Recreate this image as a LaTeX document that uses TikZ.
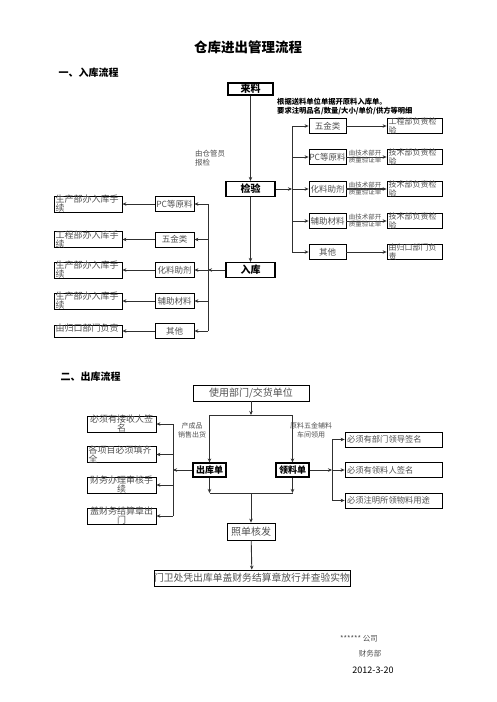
\documentclass[tikz,border=0pt]{standalone}
\usepackage{fontspec}
\setmainfont{Noto Sans CJK SC}
\usetikzlibrary{arrows.meta, positioning}
\definecolor{txtgray}{HTML}{505050}
\definecolor{linegray}{HTML}{303030}

\begin{document}
\begin{tikzpicture}[
    x=1pt, y=-1pt, >={Stealth[length=4pt,width=3.5pt]},
    arr/.style={->, draw=linegray, line width=0.9pt},
    wire/.style={draw=linegray, line width=0.9pt},
    hdr/.style={draw, line width=1.2pt, font=\bfseries\fontsize{10}{10}\selectfont,
                inner sep=0pt, minimum height=15pt, minimum width=49pt},
    cell/.style={draw, line width=0.8pt, font=\fontsize{8.5}{8.5}\selectfont,
                 text=txtgray, inner sep=0pt, minimum height=15pt},
    memo/.style={draw, line width=0.8pt, font=\fontsize{8}{8.5}\selectfont,
                 text=txtgray, align=left, text width=#1, inner xsep=1.5pt,
                 inner ysep=0pt, text height=6pt, text depth=8.5pt},
    bigmemo/.style={memo=#1, font=\fontsize{9}{9}\selectfont,
                    text height=6.5pt, text depth=9.5pt},
    tag/.style={font=\fontsize{6.5}{7}\selectfont, text=txtgray,
                align=center, inner sep=0pt}
  ]
  \useasboundingbox (0,0) rectangle (496,702);

  \node[font=\bfseries\fontsize{13.5}{14}\selectfont] (title) at (248,47) {仓库进出管理流程};

  % 入库流程
  \node[anchor=west, font=\bfseries\fontsize{10}{10}\selectfont] (secIn) at (55,73) {一、入库流程};
  \node[hdr, minimum width=45pt, minimum height=12pt] (laiLiao) at (250.5,89) {来料};
  \node[anchor=north west, align=left, inner sep=0pt,
        font=\bfseries\fontsize{7.3}{9}\selectfont] (inNote) at (277,98)
    {根据送料单位单据开原料入库单。\\要求注明品名/数量/大小/单价/供方等明细};
  \node[anchor=west, align=left, inner sep=0pt, text=txtgray,
        font=\fontsize{7.5}{9.5}\selectfont] (baoJian) at (195,158) {由仓管员\\报检};
  \node[hdr] (jianYan) at (250.5,189) {检验};
  \node[hdr] (ruKu) at (250.5,270) {入库};

  \draw[arr] (laiLiao) -- (jianYan);
  \draw[arr] (jianYan) -- (ruKu);

  % right branch
  \node[cell, minimum width=37pt] (rWujin) at (327.5,126) {五金类};
  \node[cell, minimum width=37pt] (rPc) at (327.5,157) {PC等原料};
  \node[cell, minimum width=37pt] (rHualiao) at (327.5,189) {化料助剂};
  \node[cell, minimum width=37pt] (rFuzhu) at (327.5,221) {辅助材料};
  \node[cell, minimum width=37pt] (rQita) at (327.5,252) {其他};

  \node[memo=52pt] (rWujinChk) at (414.5,126) {工程部负责检\\验};
  \node[memo=52pt] (rPcChk) at (414.5,157) {技术部负责检\\验};
  \node[memo=52pt] (rHualiaoChk) at (414.5,189) {技术部负责检\\验};
  \node[memo=52pt] (rFuzhuChk) at (414.5,221) {技术部负责检\\验};
  \node[memo=52pt] (rQitaChk) at (414.5,252) {由归口部门负\\责};

  \coordinate (rBus) at (292,189);
  \draw[arr] (jianYan) -- (rBus);
  \draw[wire] (rBus |- rWujin.west) -- (rBus |- rQita.west);
  \draw[arr] (rBus |- rWujin.west) -- (rWujin);
  \draw[arr] (rBus |- rPc.west) -- (rPc);
  \draw[arr] (rBus) -- (rHualiao);
  \draw[arr] (rBus |- rFuzhu.west) -- (rFuzhu);
  \draw[arr] (rBus |- rQita.west) -- (rQita);

  \draw[arr] (rWujin) -- (rWujinChk);
  \draw[arr] (rPc) -- (rPcChk);
  \draw[arr, line width=1.6pt] (rHualiao) -- (rHualiaoChk);
  \draw[arr] (rFuzhu) -- (rFuzhuChk);
  \draw[arr] (rQita) -- (rQitaChk);

  \node[tag] (tagPc) at (365,157) {由技术部开\\质量验证单};
  \node[tag] (tagHualiao) at (365,189) {由技术部开\\质量验证单};
  \node[tag] (tagFuzhu) at (365,221) {由技术部开\\质量验证单};

  % left branch
  \node[cell, minimum width=39pt] (lPc) at (174.5,204) {PC等原料};
  \node[cell, minimum width=39pt] (lWujin) at (174.5,239.5) {五金类};
  \node[cell, minimum width=39pt] (lHualiao) at (174.5,270) {化料助剂};
  \node[cell, minimum width=39pt] (lFuzhu) at (174.5,301) {辅助材料};
  \node[cell, minimum width=39pt] (lQita) at (174.5,331) {其他};

  \node[bigmemo=65pt] (lPcIn) at (88,204) {生产部办入库手\\续};
  \node[bigmemo=65pt] (lWujinIn) at (88,239.5) {工程部办入库手\\续};
  \node[bigmemo=65pt] (lHualiaoIn) at (88,270) {生产部办入库手\\续};
  \node[bigmemo=65pt] (lFuzhuIn) at (88,301) {生产部办入库手\\续};
  \node[bigmemo=65pt, text height=6pt, text depth=6pt] (lQitaIn) at (88,331) {由归口部门负责};

  \coordinate (lBus) at (208,270);
  \draw[arr] (ruKu) -- (lBus);
  \draw[wire] (lBus |- lPc.east) -- (lBus |- lQita.east);
  \draw[arr] (lBus |- lPc.east) -- (lPc);
  \draw[arr] (lBus |- lWujin.east) -- (lWujin);
  \draw[arr] (lBus) -- (lHualiao);
  \draw[arr] (lBus |- lFuzhu.east) -- (lFuzhu);
  \draw[arr] (lBus |- lQita.east) -- (lQita);

  \draw[arr] (lPc) -- (lPcIn);
  \draw[arr] (lWujin) -- (lWujinIn);
  \draw[arr] (lHualiao) -- (lHualiaoIn);
  \draw[arr] (lFuzhu) -- (lFuzhuIn);
  \draw[arr] (lQita) -- (lQitaIn);

  % 出库流程
  \node[anchor=west, font=\bfseries\fontsize{10}{10}\selectfont] (secOut) at (57,377) {二、出库流程};
  \node[cell, font=\fontsize{10}{10}\selectfont, minimum width=116pt, minimum height=16pt]
    (shiYong) at (251,393) {使用部门/交货单位};
  \node[hdr, font=\bfseries\fontsize{9}{9}\selectfont, minimum width=33pt, minimum height=14pt]
    (chuKu) at (209.5,470) {出库单};
  \node[hdr, font=\bfseries\fontsize{9}{9}\selectfont, minimum width=33pt, minimum height=14pt]
    (lingLiao) at (292.5,470) {领料单};
  \node[tag, font=\fontsize{7}{9}\selectfont] (tagChu) at (192,430) {产成品\\销售出货};
  \node[tag, font=\fontsize{7}{9}\selectfont] (tagLing) at (311,430) {原料五金辅料\\车间领用};

  \coordinate (topSplit) at (251,415);
  \draw[arr] (shiYong) -- (topSplit);
  \draw[wire] (chuKu |- topSplit) -- (lingLiao |- topSplit);
  \draw[arr] (chuKu |- topSplit) -- (chuKu);
  \draw[arr] (lingLiao |- topSplit) -- (lingLiao);

  \node[cell, font=\fontsize{10}{10}\selectfont, minimum width=48pt, minimum height=17pt]
    (zhaoDan) at (251,531.5) {照单核发};
  \node[cell, font=\fontsize{9.8}{10}\selectfont, minimum width=190pt, minimum height=16pt]
    (menWei) at (252,578) {门卫处凭出库单盖财务结算章放行并查验实物};

  \coordinate (botJoin) at (251,493);
  \draw[arr] (chuKu) -- (chuKu |- botJoin);
  \draw[arr] (lingLiao) -- (lingLiao |- botJoin);
  \draw[wire] (chuKu |- botJoin) -- (lingLiao |- botJoin);
  \draw[arr] (botJoin) -- (zhaoDan);
  \draw[arr] (zhaoDan) -- (menWei);

  % out, left
  \node[bigmemo=66pt, align=center] (oQianMing) at (121.5,424) {必须有接收人签\\名};
  \node[bigmemo=66pt] (oTianQi) at (121.5,454.5) {各项目必须填齐\\全};
  \node[bigmemo=66pt, align=center] (oShenHe) at (121.5,485) {财务办理审核手\\续};
  \node[bigmemo=66pt, align=center] (oGaiZhang) at (121.5,516) {盖财务结算章出\\门};

  \coordinate (oBusL) at (173,470);
  \draw[arr] (chuKu) -- (oBusL);
  \draw[wire] (oBusL |- oQianMing.east) -- (oBusL |- oGaiZhang.east);
  \draw[arr] (oBusL |- oQianMing.east) -- (oQianMing);
  \draw[arr] (oBusL |- oTianQi.east) -- (oTianQi);
  \draw[arr] (oBusL |- oShenHe.east) -- (oShenHe);
  \draw[arr] (oBusL |- oGaiZhang.east) -- (oGaiZhang);

  % out, right
  \node[cell, font=\fontsize{8.3}{8.3}\selectfont, text width=93pt, align=left,
        inner xsep=2pt] (oLingDao) at (393.5,439.5) {必须有部门领导签名};
  \node[cell, font=\fontsize{8.3}{8.3}\selectfont, text width=93pt, align=left,
        inner xsep=2pt] (oLingLiaoRen) at (393.5,470) {必须有领料人签名};
  \node[cell, font=\fontsize{8.3}{8.3}\selectfont, text width=93pt, align=left,
        inner xsep=2pt] (oYongTu) at (393.5,500.5) {必须注明所领物料用途};

  \coordinate (oBusR) at (332,470);
  \draw[arr] (lingLiao) -- (oBusR);
  \draw[wire] (oBusR |- oLingDao.west) -- (oBusR |- oYongTu.west);
  \draw[arr] (oBusR |- oLingDao.west) -- (oLingDao);
  \draw[arr] (oBusR) -- (oLingLiaoRen);
  \draw[arr] (oBusR |- oYongTu.west) -- (oYongTu);

  % footer
  \node[text=txtgray, font=\fontsize{7.5}{8}\selectfont] (company) at (359,639) {******\ 公司};
  \node[text=txtgray, font=\fontsize{7.5}{8}\selectfont] (dept) at (370,654) {财务部};
  \node[font=\fontsize{9}{9}\selectfont] (date) at (373,670) {2012-3-20};
\end{tikzpicture}
\end{document}
